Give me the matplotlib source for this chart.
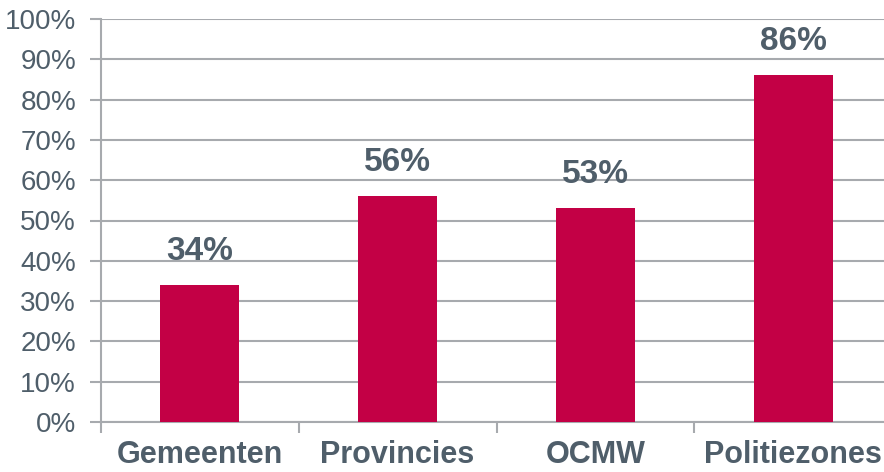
import matplotlib.pyplot as plt
import numpy as np

categories = ['Gemeenten', 'Provincies', 'OCMW', 'Politiezones']
values = [34, 56, 53, 86]
yticks = np.arange(0, 101, 10)

plt.rcParams['font.family'] = ['Liberation Sans', 'DejaVu Sans']
text_col = '#4F5E6A'
grid_col = '#A7AAAE'
bar_col = '#C30045'

fig = plt.figure(figsize=(8.84, 4.72), dpi=100)
# right edge goes slightly past the figure, like the reference
ax = fig.add_axes([101 / 884, (472 - 422) / 472, 791 / 884, 403 / 472])

x = np.arange(len(categories))
ax.bar(x, values, width=0.4, color=bar_col, zorder=3)

for xi, v in zip(x, values):
    ax.text(xi, v + 4.5, '%d%%' % v, ha='center', va='bottom',
            fontsize=24, fontweight='bold', color=text_col, zorder=4)

ax.set_xlim(-0.5, len(categories) - 0.5)
ax.set_ylim(0, 100)
ax.set_yticks(yticks)
ax.set_yticklabels(['%d%%' % t for t in yticks], fontsize=20, color=text_col)
ax.yaxis.grid(True, color=grid_col, linewidth=1.5, zorder=0)

ax.set_xticks(x)
ax.set_xticklabels(categories, fontsize=22, fontweight='bold', color=text_col)
ax.set_xticks(np.arange(-0.5, len(categories), 1), minor=True)
ax.tick_params(axis='x', which='major', length=0, pad=13)
ax.tick_params(axis='x', which='minor', length=8, width=1.5, color=grid_col)
ax.tick_params(axis='y', length=8, width=1.5, color=grid_col, pad=10)

for s in ['top', 'right']:
    ax.spines[s].set_visible(False)
for s in ['left', 'bottom']:
    ax.spines[s].set_color(grid_col)
    ax.spines[s].set_linewidth(1.5)

fig.savefig('out.png', dpi=100)
